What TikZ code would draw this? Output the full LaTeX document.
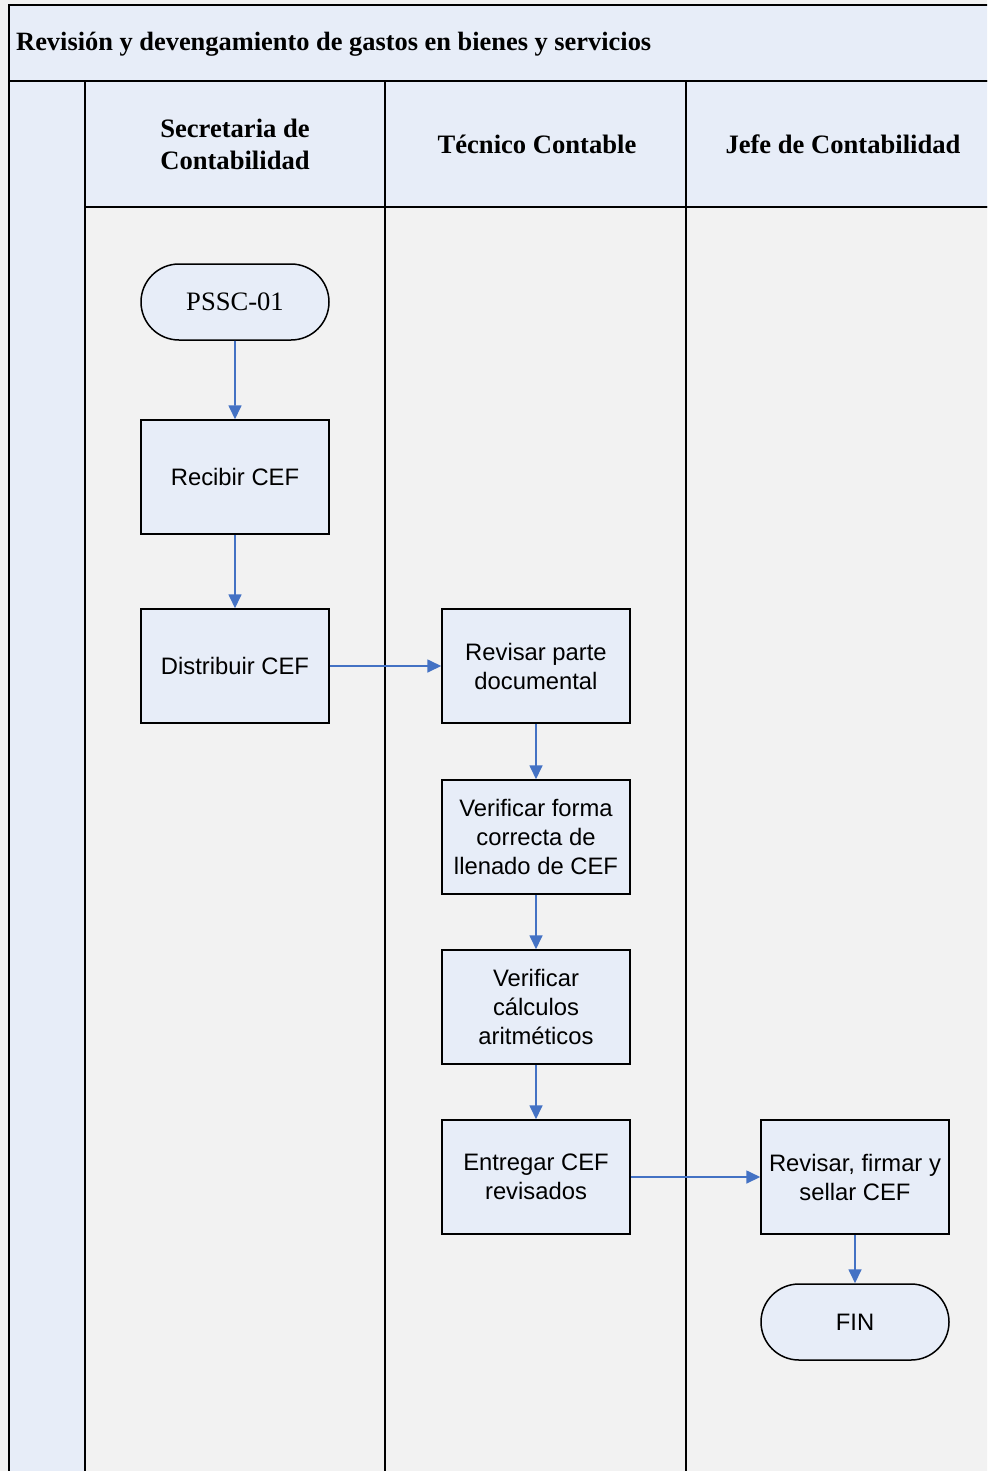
\documentclass[tikz,border=0pt]{standalone}
\usepackage{fontspec}
\setmainfont{Liberation Serif}
\setsansfont{Liberation Sans}
\usetikzlibrary{arrows.meta,shapes.misc}
\definecolor{paleblue}{RGB}{231,237,248}
\definecolor{bggrey}{RGB}{242,242,242}
\definecolor{flowblue}{RGB}{68,114,196}

\begin{document}
\begin{tikzpicture}[x=1pt,y=-1pt,
  frame/.style={draw=black,line width=2pt},
  task/.style={draw=black,line width=1.5pt,fill=paleblue,minimum width=188pt,
    minimum height=114pt,inner sep=0pt,align=center,
    font=\sffamily\fontsize{23.8}{29}\selectfont},
  term/.style={draw=black,line width=1.5pt,fill=paleblue,rounded rectangle,
    minimum width=188pt,minimum height=76pt,inner sep=0pt},
  flow/.style={draw=flowblue,line width=1.7pt,-{Triangle[length=14pt,width=13pt]}},
  lanehead/.style={font=\bfseries\fontsize{26.6}{32}\selectfont,align=center}
]
% page background
\fill[bggrey] (0,0) rectangle (987,1471);
\useasboundingbox (0,0) rectangle (987,1471);
\clip (0,0) rectangle (987,1471);

% pool title band
\draw[frame,fill=paleblue] (9,5) rectangle (1000,81);
\node[anchor=west,inner sep=0pt,font=\bfseries\fontsize{26.4}{30}\selectfont] (title) at (16,44)
  {Revisión y devengamiento de gastos en bienes y servicios};

% left strip
\draw[frame,fill=paleblue] (9,81) rectangle (85,1480);

% lane headers
\draw[frame,fill=paleblue] (85,81) rectangle (385,207);
\draw[frame,fill=paleblue] (385,81) rectangle (686,207);
\draw[frame,fill=paleblue] (686,81) rectangle (1000,207);
% lane bodies
\draw[frame,fill=bggrey] (85,207) rectangle (385,1480);
\draw[frame,fill=bggrey] (385,207) rectangle (686,1480);
\draw[frame,fill=bggrey] (686,207) rectangle (1000,1480);

\node[lanehead] (lane1) at (235,144) {Secretaria de\\Contabilidad};
\node[lanehead] (lane2) at (537,144) {Técnico Contable};
\node[lanehead] (lane3) at (843,144) {Jefe de Contabilidad};

% process steps
\node[term,font=\fontsize{26.6}{30}\selectfont] (start) at (235,302) {PSSC-01};
\node[task] (recibir) at (235,477) {Recibir CEF};
\node[task] (distribuir) at (235,666) {Distribuir CEF};
\node[task] (revisar) at (536,666) {Revisar parte\\documental};
\node[task] (forma) at (536,837) {Verificar forma\\correcta de\\llenado de CEF};
\node[task] (calculos) at (536,1007) {Verificar\\cálculos\\aritméticos};
\node[task] (entregar) at (536,1177) {Entregar CEF\\revisados};
\node[task] (firmar) at (855,1177) {Revisar, firmar y\\sellar CEF};
\node[term,font=\sffamily\fontsize{23.8}{29}\selectfont] (fin) at (855,1322) {FIN};

% connectors
\draw[flow] (start) -- (recibir);
\draw[flow] (recibir) -- (distribuir);
\draw[flow] (distribuir) -- (revisar);
\draw[flow] (revisar) -- (forma);
\draw[flow] (forma) -- (calculos);
\draw[flow] (calculos) -- (entregar);
\draw[flow] (entregar) -- (firmar);
\draw[flow] (firmar) -- (fin);
\end{tikzpicture}
\end{document}
